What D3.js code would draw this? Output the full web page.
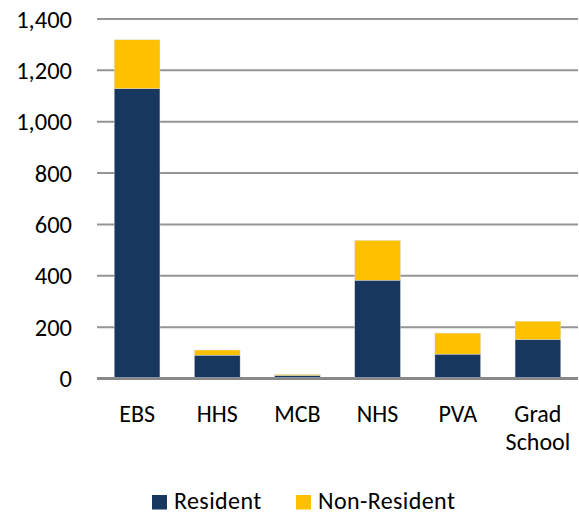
<!DOCTYPE html>
<html>
<head>
<meta charset="utf-8">
<script src="https://cdn.jsdelivr.net/npm/d3@7"></script>
<style>
  body { margin: 0; background: #fff; }
  text { font-family: Carlito, "Open Sans", "Noto Sans", sans-serif; fill: #000; }
</style>
</head>
<body>
<svg id="chart" width="579" height="514"></svg>
<script>
"use strict";

// chart data
const categories = ["EBS", "HHS", "MCB", "NHS", "PVA", "Grad School"];
const resident = [1125, 87, 8, 379, 91, 148];
const nonResident = [190, 20, 4, 155, 82, 71];
const yTicks = [0, 200, 400, 600, 800, 1000, 1200, 1400];
const seriesNames = ["Resident", "Non-Resident"];
const colors = ["#17375e", "#ffc000"];

const svg = d3.select("#chart");
const margin = { top: 19, right: 1, bottom: 135.5, left: 97 };
const width = 579 - margin.left - margin.right;
const height = 514 - margin.top - margin.bottom;

const g = svg.append("g").attr("transform", `translate(${margin.left},${margin.top})`);

const x = d3.scaleBand().domain(categories).range([0, width]).paddingInner(0.43).paddingOuter(0.215);
const y = d3.scaleLinear().domain([0, 1400]).range([height, 0]);

// gridlines (baseline a bit heavier)
g.selectAll(".grid").data(yTicks).enter().append("line")
    .attr("x1", 0).attr("x2", width)
    .attr("y1", d => y(d)).attr("y2", d => y(d))
    .attr("stroke", d => d === 0 ? "#888" : "#959595")
    .attr("stroke-width", d => d === 0 ? 3 : 2);

// y labels
g.selectAll(".ylab").data(yTicks).enter().append("text")
    .attr("x", -25).attr("y", d => y(d) + 8.5)
    .attr("text-anchor", "end").style("font-size", "24.5px")
    .text(d => d3.format(",")(d));

// stacked bars, sitting on top of the axis line
const rows = categories.map((c, i) => ({ cat: c, Resident: resident[i], "Non-Resident": nonResident[i] }));
const stack = d3.stack().keys(seriesNames)(rows);

g.selectAll(".series").data(stack).enter().append("g")
    .attr("fill", (d, i) => colors[i])
  .selectAll("rect").data(d => d).enter().append("rect")
    .attr("x", d => x(d.data.cat))
    .attr("width", x.bandwidth())
    .attr("y", d => y(d[1]) - 1)
    .attr("height", d => y(d[0]) - y(d[1]))
    .attr("stroke", "#d5dce6").attr("stroke-width", 0.4);

// x labels
const xl = g.selectAll(".xlab").data(categories).enter().append("text")
    .attr("text-anchor", "middle").style("font-size", "24px")
    .attr("transform", d => `translate(${x(d) + x.bandwidth() / 2},${height + 43})`);
xl.each(function(d) {
    const words = d.split(" ");
    const t = d3.select(this);
    words.forEach((w, i) => t.append("tspan").attr("x", 0).attr("y", i * 28.5).text(w));
});

// legend
const legend = svg.append("g").attr("transform", "translate(152,495)");
const legX = [0, 144];
seriesNames.forEach((s, i) => {
    const lg = legend.append("g").attr("transform", `translate(${legX[i]},0)`);
    lg.append("rect").attr("width", 15).attr("height", 14.5).attr("fill", colors[i]);
    lg.append("text").attr("x", 22).attr("y", 14)
        .style("font-size", "24px").style("letter-spacing", "0.4px").text(s);
});
</script>
</body>
</html>
